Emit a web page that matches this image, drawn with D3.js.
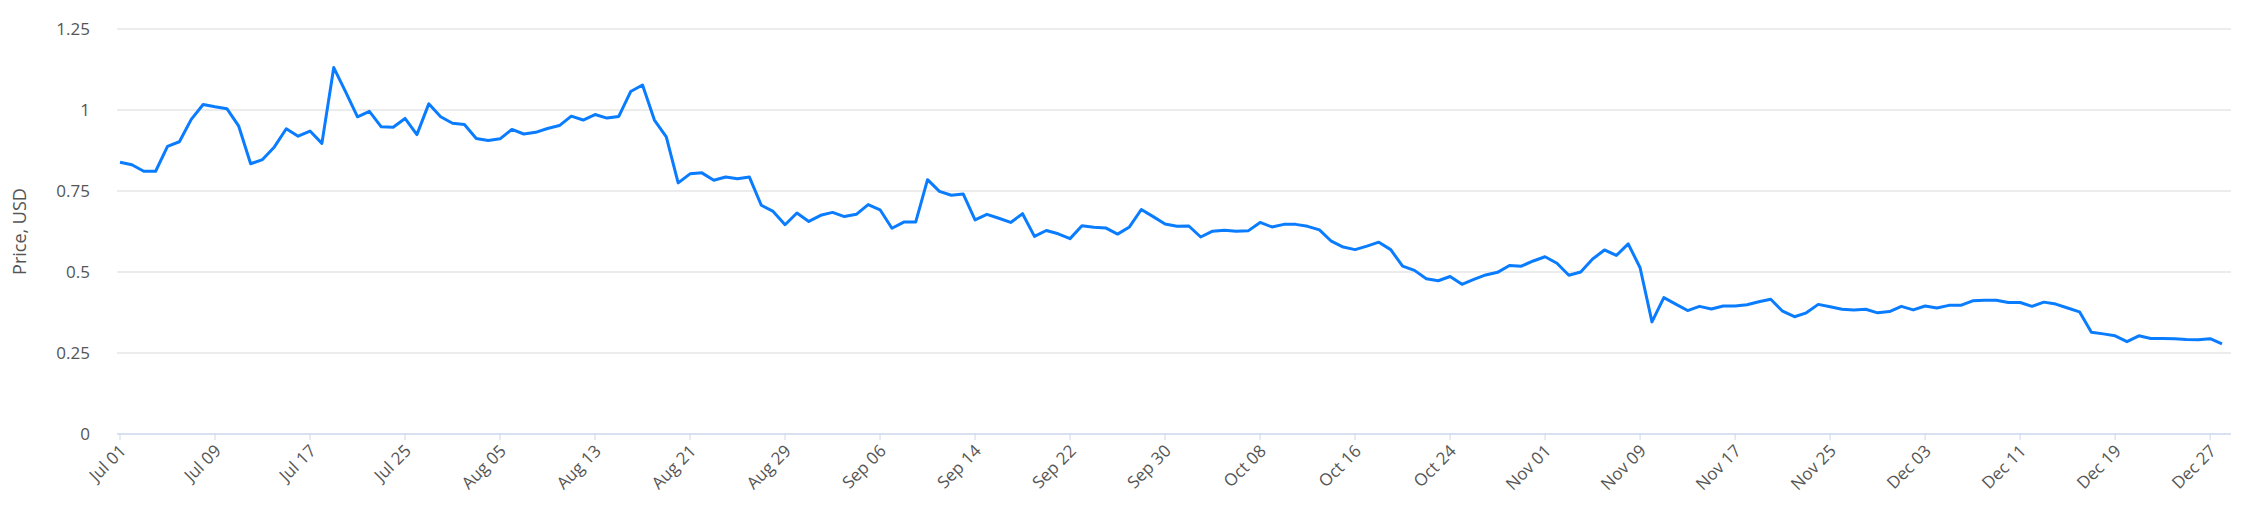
<!DOCTYPE html>
<html><head><meta charset="utf-8">
<script src="https://cdn.jsdelivr.net/npm/d3@7"></script>
<style>body{margin:0;background:#fff}svg{display:block}text{font-family:"Open Sans",sans-serif}</style>
</head><body>
<svg id="c" width="2261" height="518"></svg>
<script>
const tickLabels=["Jul 01","Jul 09","Jul 17","Jul 25","Aug 05","Aug 13","Aug 21","Aug 29","Sep 06","Sep 14","Sep 22","Sep 30","Oct 08","Oct 16","Oct 24","Nov 01","Nov 09","Nov 17","Nov 25","Dec 03","Dec 11","Dec 19","Dec 27"];
const prices=[0.839,0.831,0.811,0.811,0.888,0.902,0.971,1.017,1.010,1.004,0.950,0.834,0.847,0.886,0.942,0.919,0.935,0.897,1.131,1.056,
0.979,0.996,0.948,0.947,0.974,0.924,1.019,0.979,0.959,0.955,0.912,0.906,0.911,0.940,0.926,0.931,0.943,0.952,0.981,0.969,
0.986,0.975,0.980,1.057,1.077,0.969,0.917,0.775,0.803,0.806,0.783,0.793,0.788,0.793,0.706,0.687,0.646,0.682,0.656,0.675,
0.684,0.671,0.678,0.708,0.692,0.635,0.654,0.654,0.785,0.749,0.737,0.741,0.661,0.678,0.666,0.653,0.680,0.610,0.628,0.618,
0.603,0.643,0.638,0.636,0.617,0.639,0.693,0.671,0.648,0.641,0.642,0.608,0.626,0.629,0.626,0.627,0.653,0.639,0.647,0.647,
0.641,0.630,0.595,0.577,0.569,0.580,0.592,0.569,0.518,0.505,0.479,0.473,0.486,0.462,0.477,0.491,0.499,0.520,0.518,0.534,
0.547,0.527,0.490,0.500,0.540,0.568,0.551,0.587,0.513,0.346,0.421,0.401,0.381,0.394,0.386,0.395,0.395,0.399,0.408,0.416,
0.379,0.362,0.374,0.400,0.393,0.385,0.383,0.385,0.374,0.378,0.394,0.383,0.395,0.389,0.397,0.397,0.411,0.413,0.413,0.406,
0.406,0.394,0.407,0.401,0.389,0.377,0.314,0.309,0.303,0.285,0.303,0.295,0.295,0.294,0.292,0.291,0.294,0.278];
const yTicks=[0,0.25,0.5,0.75,1,1.25];
const tickEvery=8;

const svg=d3.select("#c");
const x=d3.scaleLinear().domain([0,prices.length-1]).range([120,2222]);
const y=d3.scaleLinear().domain([0,1.25]).range([434,29]);
const gx0=117,gx1=2231;

svg.append("g").selectAll("line").data(yTicks.filter(d=>d>0)).join("line")
 .attr("x1",gx0).attr("x2",gx1).attr("y1",d=>y(d)).attr("y2",d=>y(d))
 .attr("stroke","#e6e6e6").attr("stroke-width",1.5);
svg.append("line").attr("x1",gx0).attr("x2",gx1).attr("y1",y(0)).attr("y2",y(0))
 .attr("stroke","#ccd6eb").attr("stroke-width",1.5);

const fmt=d=>d===0?"0":String(d);
svg.append("g").selectAll("text").data(yTicks).join("text")
 .attr("x",90).attr("y",d=>y(d)+6).attr("text-anchor","end")
 .attr("font-size",17).attr("fill","#555").text(fmt);

svg.append("text").attr("transform","translate(26,"+y(0.625)+") rotate(-90)")
 .attr("text-anchor","middle").attr("font-size",18).attr("fill","#555").text("Price, USD");

const xt=tickLabels.map((t,k)=>({t,i:k*tickEvery}));
svg.append("g").selectAll("line").data(xt).join("line")
 .attr("x1",d=>x(d.i)).attr("x2",d=>x(d.i)).attr("y1",y(0)).attr("y2",y(0)+6)
 .attr("stroke","#ccd6eb");
svg.append("g").selectAll("text").data(xt).join("text")
 .attr("transform",d=>"translate("+(x(d.i)+7)+","+(y(0)+18)+") rotate(-45)")
 .attr("text-anchor","end").attr("font-size",17).attr("fill","#555").text(d=>d.t);

svg.append("path").datum(prices)
 .attr("d",d3.line().x((d,i)=>x(i)).y(d=>y(d)))
 .attr("fill","none").attr("stroke","#0a7cff").attr("stroke-width",3).attr("stroke-linejoin","round");
</script>
</body></html>
